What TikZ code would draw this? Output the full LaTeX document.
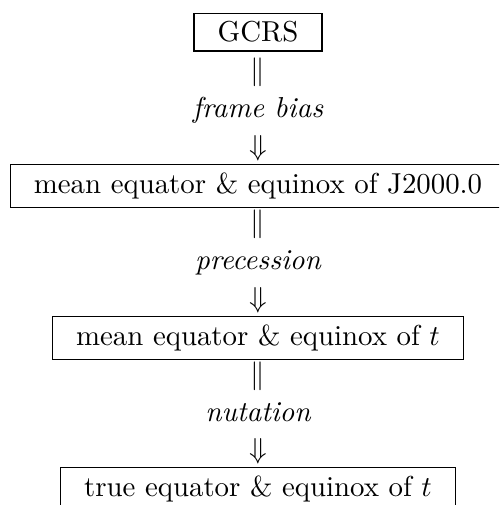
\documentclass[tikz,border=0pt]{standalone}
\begin{document}
\begin{tikzpicture}[x=0.3468pt,y=-0.3468pt,
  framebox/.style={draw, line width=0.45pt, inner xsep=8.2pt, inner ysep=2.9pt, anchor=base},
  sym/.style={inner sep=0pt, anchor=base},
  lbl/.style={inner sep=0pt, anchor=base, font=\itshape}]
\clip (0,0) rectangle (499,505);
\node[framebox] (gcrs) at (258,42) {GCRS};
\node[sym] (v1) at (258,79.9) {$\Vert$};
\node[lbl] (l1) at (258,117.8) {frame bias};
\node[sym] (d1) at (258,155.7) {$\Downarrow$};
\node[framebox] (j2000) at (258,193.6) {mean equator \& equinox of J2000.0};
\node[sym] (v2) at (258,231.5) {$\Vert$};
\node[lbl] (l2) at (258,269.4) {precession};
\node[sym] (d2) at (258,307.3) {$\Downarrow$};
\node[framebox] (mean) at (258,345.2) {mean equator \& equinox of $t$};
\node[sym] (v3) at (258,383.1) {$\Vert$};
\node[lbl] (l3) at (258,421) {nutation};
\node[sym] (d3) at (258,458.9) {$\Downarrow$};
\node[framebox] (true) at (258,496.8) {true equator \& equinox of $t$};
\end{tikzpicture}
\end{document}
